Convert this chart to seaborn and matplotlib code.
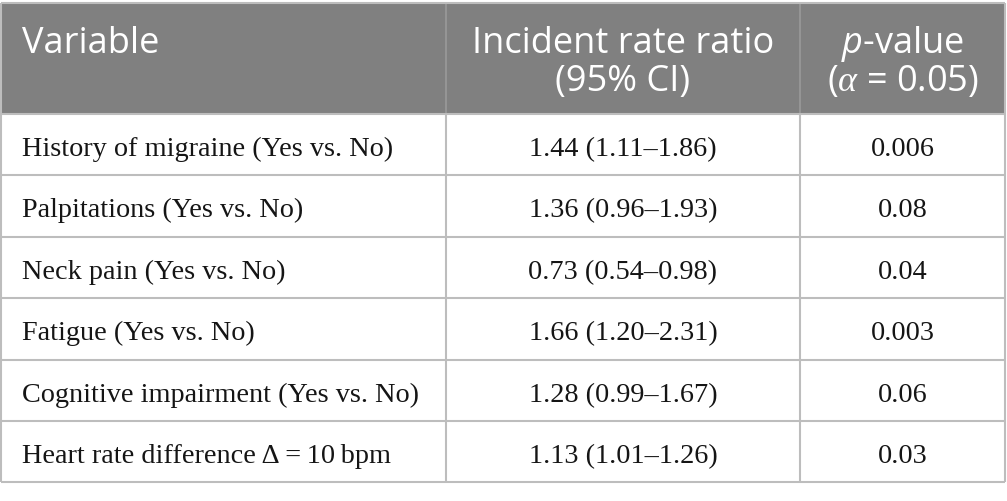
import matplotlib
matplotlib.use("Agg")
import matplotlib.pyplot as plt
import seaborn as sns
from matplotlib.patches import Rectangle

# ---- data ----
variables = [
    "History of migraine (Yes vs. No)",
    "Palpitations (Yes vs. No)",
    "Neck pain (Yes vs. No)",
    "Fatigue (Yes vs. No)",
    "Cognitive impairment (Yes vs. No)",
    "Heart rate difference \u0394\u2009=\u200910\u2009bpm",
]
irr = [1.44, 1.36, 0.73, 1.66, 1.28, 1.13]
ci_low = [1.11, 0.96, 0.54, 1.20, 0.99, 1.01]
ci_high = [1.86, 1.93, 0.98, 2.31, 1.67, 1.26]
p_values = ["0.006", "0.08", "0.04", "0.003", "0.06", "0.03"]
header_var = "Variable"
header_irr = ["Incident rate ratio", "(95% CI)"]
header_p = ["$p$-value", "($\\mathsf{\\alpha}$ = 0.05)"]

sns.set_style("white")
plt.rcParams["mathtext.fontset"] = "custom"
plt.rcParams["mathtext.rm"] = "Open Sans"
plt.rcParams["mathtext.it"] = "Open Sans:italic"
plt.rcParams["mathtext.sf"] = "Liberation Serif:italic"

W, H = 1007, 502
fig = plt.figure(figsize=(W / 100, H / 100), dpi=100)
ax = fig.add_axes([0, 0, 1, 1])
ax.set_xlim(0, W)
ax.set_ylim(H, 0)
ax.axis("off")

col_edges = [1, 446, 800, 1005]
row_edges = [4, 115, 176, 238, 299, 361, 422, 483]
header_bg = "#808080"
grid_c = "#bdbdbd"

# header background
ax.add_patch(Rectangle((col_edges[0], row_edges[0]), col_edges[-1] - col_edges[0],
                       row_edges[1] - row_edges[0], facecolor=header_bg, edgecolor="none"))
# header internal separators
for x in col_edges[1:-1]:
    ax.plot([x, x], [row_edges[0], row_edges[1]], color="#9a9a9a", lw=1.2, solid_capstyle="butt")
# body grid
for y in row_edges:
    ax.plot([col_edges[0], col_edges[-1]], [y, y], color=grid_c, lw=1.5, solid_capstyle="butt")
for x in col_edges:
    ax.plot([x, x], [row_edges[1], row_edges[-1]], color=grid_c, lw=1.5, solid_capstyle="butt")
for x in (col_edges[0], col_edges[-1]):
    ax.plot([x, x], [row_edges[0], row_edges[1]], color=grid_c, lw=1.5, solid_capstyle="butt")

sans = ["Open Sans", "DejaVu Sans"]
serif = ["Liberation Serif", "DejaVu Serif"]
hsize = 26
bsize = 20.3

c1 = (col_edges[1] + col_edges[2]) / 2
c2 = (col_edges[2] + col_edges[3]) / 2
ax.text(22, 53, header_var, color="white", fontsize=hsize, family=sans, va="baseline", ha="left")
ax.text(c1, 53, header_irr[0], color="white", fontsize=hsize, family=sans, va="baseline", ha="center")
ax.text(c1, 91, header_irr[1], color="white", fontsize=hsize, family=sans, va="baseline", ha="center")
ax.text(c2, 53, header_p[0], color="white", fontsize=hsize, family=sans, va="baseline", ha="center")
ax.text(c2, 91, header_p[1], color="white", fontsize=hsize, family=sans, va="baseline", ha="center")

for i, var in enumerate(variables):
    top = row_edges[i + 1]
    yb = top + 41
    ax.text(22, yb, var, color="#151515", fontsize=bsize, family=serif, va="baseline", ha="left")
    ax.text(c1, yb, f"{irr[i]:.2f} ({ci_low[i]:.2f}\u2013{ci_high[i]:.2f})", color="#151515",
            fontsize=bsize, family=serif, va="baseline", ha="center")
    ax.text(c2, yb, p_values[i], color="#151515", fontsize=bsize, family=serif, va="baseline", ha="center")

fig.savefig("out.png", dpi=100, facecolor="white")
